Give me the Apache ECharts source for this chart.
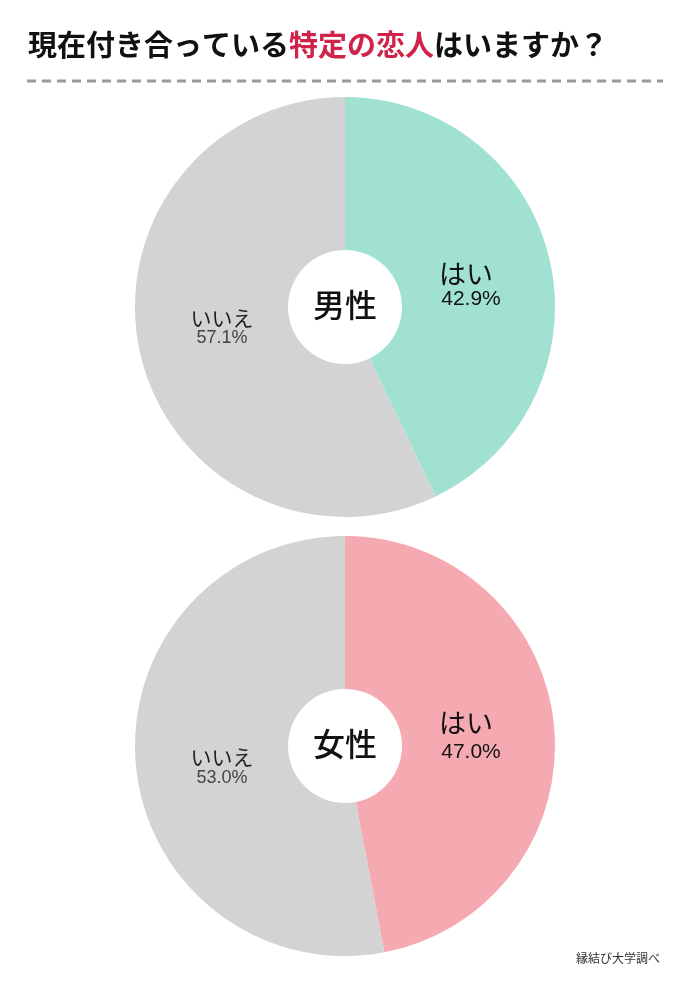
<!DOCTYPE html>
<html><head><meta charset="utf-8">
<script src="https://cdn.jsdelivr.net/npm/echarts@6/dist/echarts.min.js"></script>
<style>html,body{margin:0;padding:0;background:#fff}#c{width:690px;height:983px}</style>
</head><body><div id="c"></div>
<script>
const categories = ['はい', 'いいえ'];
const groups = ['男性', '女性'];
const maleValues = [42.9, 57.1];
const femaleValues = [47.0, 53.0];
const titleParts = ['現在付き合っている', '特定の恋人', 'はいますか？'];
const sourceText = '縁結び大学調べ';

const FONT = '"Noto Sans CJK JP", "Noto Sans", sans-serif';
const yesColors = ['#A0E1D1', '#F5A9B1'];
const noColor = '#D3D3D3';
const centers = [[345, 307], [345, 746]];
const pct = v => v.toFixed(1) + '%';
const allValues = [maleValues, femaleValues];

const chart = echarts.init(document.getElementById('c'), null, {renderer: 'canvas'});

const series = allValues.map((vals, i) => ({
  type: 'pie',
  center: centers[i],
  radius: [57, 210],
  startAngle: 90,
  clockwise: true,
  silent: true,
  z: 1,
  label: {show: false},
  labelLine: {show: false},
  data: categories.map((c, j) => ({
    name: c, value: vals[j],
    itemStyle: {color: j === 0 ? yesColors[i] : noColor}
  }))
}));

const graphic = [
  {type: 'text', left: 28, top: 30, z: 100, style: {
    rich: {a: {fontSize: 29, fontWeight: 'bold', fill: '#111', fontFamily: FONT},
           b: {fontSize: 29, fontWeight: 'bold', fill: '#D0234A', fontFamily: FONT}},
    text: '{a|' + titleParts[0] + '}{b|' + titleParts[1] + '}{a|' + titleParts[2] + '}'
  }},
  {type: 'line', z: 100, shape: {x1: 27, y1: 81, x2: 663, y2: 81},
   style: {stroke: '#999999', lineWidth: 3, lineDash: [9, 6]}}
];

allValues.forEach((vals, i) => {
  const [cx, cy] = centers[i];
  const yesOff = i === 0 ? [[121, -33], [126, -8]] : [[121, -23], [126, 6]];
  const noOff = i === 0 ? [[-123, 11], [-123, 31]] : [[-123, 11], [-123, 32]];
  graphic.push(
    {type: 'text', z: 100, x: cx, y: cy - 2, style: {text: groups[i], fontSize: 32, fontWeight: 500, fill: '#111',
      fontFamily: FONT, align: 'center', verticalAlign: 'middle'}},
    {type: 'text', z: 100, x: cx + yesOff[0][0], y: cy + yesOff[0][1], style: {text: categories[0], fontSize: 27, fill: '#111',
      fontFamily: FONT, align: 'center', verticalAlign: 'middle'}},
    {type: 'text', z: 100, x: cx + yesOff[1][0], y: cy + yesOff[1][1], style: {text: pct(vals[0]), fontSize: 21, fill: '#111',
      fontFamily: 'Liberation Sans, Arial, sans-serif', align: 'center', verticalAlign: 'middle'}},
    {type: 'text', z: 100, x: cx + noOff[0][0], y: cy + noOff[0][1], style: {text: categories[1], fontSize: 21, fill: '#222',
      fontFamily: FONT, align: 'center', verticalAlign: 'middle'}},
    {type: 'text', z: 100, x: cx + noOff[1][0], y: cy + noOff[1][1], style: {text: pct(vals[1]), fontSize: 18, fill: '#444',
      fontFamily: 'Liberation Sans, Arial, sans-serif', align: 'center', verticalAlign: 'middle'}}
  );
});

graphic.push({type: 'text', z: 100, right: 30, top: 952, style: {text: sourceText, fontSize: 12, fill: '#333', fontFamily: FONT}});

chart.setOption({
  backgroundColor: '#fff',
  animation: false,
  series: series,
  graphic: graphic
});
</script></body></html>
